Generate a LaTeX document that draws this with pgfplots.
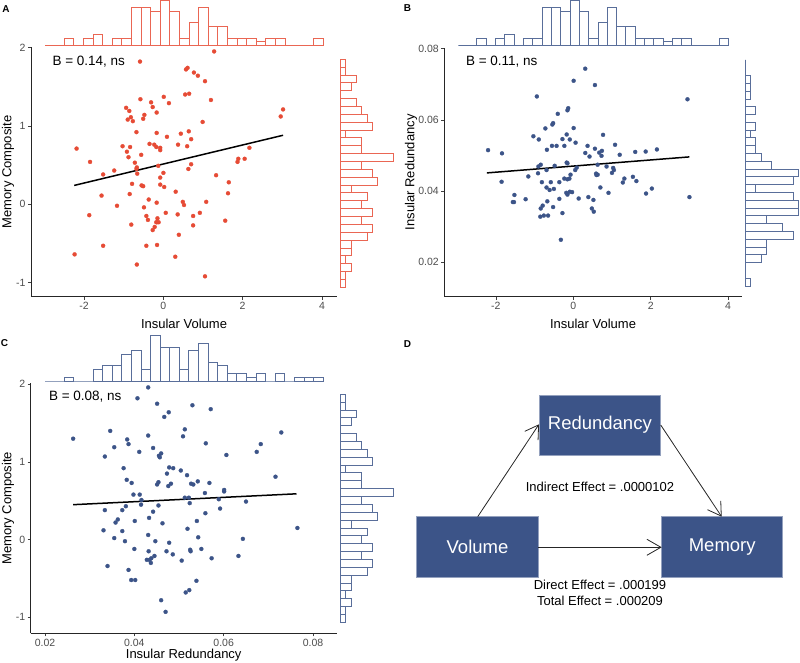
\documentclass[border=0pt]{standalone}
\usepackage{pgfplots}
\pgfplotsset{compat=1.18}
\usepackage{fontspec}
\setmainfont{Liberation Sans}
\usetikzlibrary{arrows.meta}
\definecolor{npgred}{HTML}{E64B35}
\definecolor{npgblue}{HTML}{3C5488}
\definecolor{tickgray}{HTML}{4D4D4D}
\pgfplotsset{
  scat/.style={scale only axis, clip=false,
    axis x line*=bottom, axis y line*=left,
    axis line style={black!85, line width=0.8pt, -},
    tick align=outside, major tick length=3pt,
    tick style={black!75, line width=0.6pt},
    tick label style={font=\fontsize{10.5}{12}\selectfont, color=tickgray},
    /pgf/number format/assume math mode=true,
    label style={font=\fontsize{13}{15}\selectfont},
    xticklabel style={yshift=1pt},
    yticklabel style={xshift=1pt},
  },
  hist/.style={scale only axis, clip=false, hide axis},
  histx/.style={hist, ybar interval, ymin=0, xmin=0, xmax=29},
  histy/.style={hist, xbar interval, xmin=0, ymin=0, ymax=29},
  dots/.style={only marks, mark=*, mark size=2pt, color=#1, mark options={fill=#1, draw=#1, line width=0.3pt, line join=round}},
}
\begin{document}
\begin{tikzpicture}[x=1pt,y=1pt]
\path[use as bounding box] (0,0) rectangle (800,663);

% ================= Panel A =================
\begin{axis}[scat, at={(31pt,366.3pt)}, anchor=south west, width=306pt, height=249.2pt,
  xmin=-3.34, xmax=4.38, ymin=-1.18, ymax=2.0,
  xtick={-2,0,2,4}, ytick={-1,0,1,2},
  xlabel={Insular Volume}, ylabel={Memory Composite},
  xlabel style={at={(axis description cs:0.5,-0.11)}, anchor=center},
  ylabel style={at={(axis description cs:-0.075,0.5)}, anchor=center}]
\addplot[dots=npgred] coordinates {
(1.28,1.95)(-0.59,1.82)(0.57,1.72)(0.61,1.74)(0.77,1.68)(0.87,1.64)(1.05,1.57)(-0.58,1.34)(0.01,1.37)(0.14,1.29)(0.55,1.40)(0.65,1.41)(1.20,1.33)(-0.31,1.30)(-0.27,1.24)(-0.17,1.17)(-0.94,1.23)(-0.86,1.19)(-0.82,1.11)(-0.90,1.08)(-0.77,1.06)(-0.48,1.14)(-0.51,1.09)(0.99,1.05)(3.02,1.21)(2.96,1.12)(-0.68,0.92)(-0.17,0.91)(0.09,0.86)(0.44,0.90)(0.64,0.93)(0.70,0.83)(-0.35,0.77)(-0.23,0.76)(-0.18,0.73)(-0.08,0.72)(-1.03,0.74)(-0.84,0.73)(0.37,0.76)(0.60,0.74)(-2.19,0.71)(2.17,0.72)(-0.92,0.67)(-0.88,0.60)(-0.56,0.63)(-0.08,0.69)(1.87,0.54)(1.89,0.58)(2.05,0.58)(-1.85,0.54)(-0.72,0.53)(-0.67,0.47)(-0.68,0.45)(-0.66,0.39)(0.70,0.51)(0.63,0.45)(-0.13,0.49)(-1.24,0.43)(-1.52,0.38)(0.0,0.40)(-0.08,0.34)(1.33,0.37)(-0.79,0.26)(-0.55,0.24)(-0.51,0.23)(-0.08,0.25)(0.02,0.22)(1.65,0.28)(1.63,0.14)(0.31,0.16)(-1.56,0.11)(-0.85,0.13)(-0.37,0.06)(-1.17,-0.02)(-0.17,0.02)(1.08,0.03)(0.49,0.03)(0.52,-0.01)(-0.49,-0.04)(0.06,-0.11)(0.36,-0.13)(0.92,-0.11)(-1.87,-0.14)(-0.43,-0.15)(-0.39,-0.20)(-0.15,-0.18)(-0.16,-0.23)(-0.12,-0.23)(-0.18,-0.23)(0.75,-0.15)(1.56,-0.21)(-0.81,-0.26)(0.75,-0.27)(-0.22,-0.29)(-0.27,-0.33)(0.39,-0.39)(-1.52,-0.53)(-0.43,-0.53)(-0.16,-0.52)(-2.24,-0.64)(0.30,-0.67)(-0.67,-0.77)(1.05,-0.92)};
\addplot[black, line width=1.5pt] coordinates {(-2.25,0.24)(3.02,0.88)};
\end{axis}
\node[anchor=west, font=\fontsize{13.5}{15}\selectfont] at (49,601.3) {B = 0.14, ns};
\begin{axis}[histx, at={(45pt,617.3pt)}, anchor=south west, width=278.4pt, height=45.7pt, ymax=12]
\addplot[draw=npgred!85, fill=white, line width=0.9pt] coordinates {(0,0)(1,0)(2,2)(3,0)(4,2)(5,3)(6,0)(7,2)(8,2)(9,10)(10,10)(11,9)(12,12)(13,9)(14,2)(15,6)(16,10)(17,5)(18,5)(19,2)(20,2)(21,2)(22,1)(23,2)(24,2)(25,0)(26,0)(27,0)(28,2)(29,0)};
\end{axis}
\begin{axis}[histy, at={(340.3pt,375.7pt)}, anchor=south west, width=53.3pt, height=228pt, xmax=10]
\addplot[draw=npgred!85, fill=white, line width=0.9pt] coordinates {(1,0)(1,1)(2,2)(1,3)(2,4)(2,5)(5,6)(6,7)(4,8)(6,9)(4,10)(5,11)(2,12)(7,13)(6,14)(4,15)(10,16)(4,17)(4,18)(1,19)(6,20)(5,21)(4,22)(3,23)(0,24)(2,25)(3,26)(1,27)(1,28)(0,29)};
\end{axis}

% ================= Panel B =================
\begin{axis}[scat, at={(444.3pt,366.3pt)}, anchor=south west, width=297.4pt, height=249pt,
  xmin=-3.33, xmax=4.35, ymin=0.0103, ymax=0.0803,
  xtick={-2,0,2,4}, ytick={0.02,0.04,0.06,0.08}, scaled y ticks=false,
  yticklabel style={/pgf/number format/fixed, /pgf/number format/precision=2, /pgf/number format/fixed zerofill},
  xlabel={Insular Volume}, ylabel={Insular Redundancy},
  xlabel style={at={(axis description cs:0.5,-0.11)}, anchor=center},
  ylabel style={at={(axis description cs:-0.112,0.5)}, anchor=center}]
\addplot[dots=npgblue] coordinates {
(0.31,0.0744)(0.01,0.0710)(0.56,0.0698)(-0.94,0.0666)(2.95,0.0658)(-0.15,0.0627)(-0.13,0.0633)(-0.40,0.0617)(-0.52,0.0591)(-0.54,0.0587)(-0.72,0.0576)(0.01,0.0577)(-1.03,0.0554)(-0.89,0.0545)(0.77,0.0558)(-0.17,0.0559)(-0.28,0.0546)(-0.09,0.0545)(0.06,0.0536)(-0.55,0.0527)(-0.43,0.0527)(-0.23,0.0527)(0.37,0.0527)(1.08,0.0530)(-2.2,0.0515)(0.56,0.0519)(0.74,0.0513)(-0.68,0.0516)(2.16,0.0517)(1.87,0.0511)(-1.84,0.0506)(0.31,0.0507)(0.42,0.0497)(0.67,0.0508)(0.73,0.0499)(1.20,0.0502)(1.60,0.0510)(-0.90,0.0469)(-0.84,0.0474)(-0.69,0.0459)(-0.48,0.0471)(-0.17,0.0480)(-0.15,0.0478)(0.09,0.0466)(0.05,0.0459)(0.63,0.0474)(0.86,0.0469)(1.03,0.0465)(1.05,0.0459)(-1.85,0.0426)(-1.16,0.0441)(-0.91,0.0450)(-0.81,0.0425)(-0.58,0.0425)(-0.50,0.0406)(-0.69,0.0410)(-0.61,0.0403)(-0.36,0.0425)(-0.23,0.0435)(-0.15,0.0433)(-0.10,0.0435)(-0.07,0.0446)(-0.18,0.0395)(-0.09,0.0398)(-0.15,0.0390)(-0.03,0.0397)(0.59,0.0449)(0.63,0.0446)(0.60,0.0445)(1.00,0.0451)(1.28,0.0424)(1.32,0.0435)(1.54,0.0440)(1.63,0.0428)(0.70,0.0410)(0.91,0.0395)(1.88,0.0393)(2.03,0.0407)(3.0,0.0383)(-1.52,0.0389)(-1.53,0.0369)(-1.56,0.0369)(-1.23,0.0377)(-0.67,0.0371)(-0.36,0.0378)(0.14,0.0379)(0.39,0.0383)(0.52,0.0375)(-0.79,0.0359)(-0.84,0.0351)(-0.52,0.0355)(0.48,0.0351)(0.53,0.0342)(-0.28,0.0338)(-0.85,0.0328)(-0.76,0.0331)(-0.65,0.0331)(-0.32,0.0263)};
\addplot[black, line width=1.5pt] coordinates {(-2.23,0.0451)(3.0,0.0496)};
\end{axis}
\node[anchor=west, font=\fontsize{13.5}{15}\selectfont] at (462.5,601.7) {B = 0.11, ns};
\begin{axis}[histx, at={(458.3pt,617.3pt)}, anchor=south west, width=270pt, height=45.7pt, ymax=12]
\addplot[draw=npgblue!85, fill=white, line width=0.9pt] coordinates {(0,0)(1,0)(2,2)(3,0)(4,2)(5,3)(6,0)(7,2)(8,2)(9,10)(10,10)(11,9)(12,12)(13,9)(14,2)(15,6)(16,10)(17,5)(18,5)(19,2)(20,2)(21,2)(22,1)(23,2)(24,2)(25,0)(26,0)(27,0)(28,2)(29,0)};
\end{axis}
\begin{axis}[histy, at={(745pt,377pt)}, anchor=south west, width=53.3pt, height=226pt, xmax=10]
\addplot[draw=npgblue!85, fill=white, line width=0.9pt] coordinates {(1,0)(0,1)(0,2)(3,3)(4,4)(4,5)(9,6)(7,7)(4,8)(10,9)(10,10)(9,11)(2,12)(9,13)(10,14)(5,15)(3,16)(2,17)(2,18)(1,19)(2,20)(0,21)(2,22)(0,23)(1,24)(1,25)(1,26)(0,27)(0,28)(0,29)};
\end{axis}

% ================= Panel C =================
\begin{axis}[scat, at={(30.7pt,29.7pt)}, anchor=south west, width=306pt, height=250pt,
  xmin=0.0168, xmax=0.0853, ymin=-1.206, ymax=2.013,
  xtick={0.02,0.04,0.06,0.08}, ytick={-1,0,1,2}, scaled x ticks=false,
  xticklabel style={/pgf/number format/fixed, /pgf/number format/precision=2, /pgf/number format/fixed zerofill},
  xlabel={Insular Redundancy}, ylabel={Memory Composite},
  xlabel style={at={(axis description cs:0.5,-0.087)}, anchor=center},
  ylabel style={at={(axis description cs:-0.074,0.5)}, anchor=center}]
\addplot[dots=npgblue] coordinates {
(0.0431,1.96)(0.0407,1.82)(0.0451,1.75)(0.0530,1.73)(0.0571,1.68)(0.0477,1.64)(0.0467,1.58)(0.0346,1.40)(0.0513,1.42)(0.0509,1.33)(0.0729,1.38)(0.0263,1.30)(0.0431,1.34)(0.0384,1.29)(0.0387,1.23)(0.0355,1.19)(0.0442,1.18)(0.0560,1.24)(0.0683,1.23)(0.0674,1.13)(0.0411,1.13)(0.0460,1.11)(0.0455,1.08)(0.0457,1.06)(0.0334,1.07)(0.0606,1.09)(0.0376,0.92)(0.0478,0.93)(0.0487,0.92)(0.0473,0.85)(0.0504,0.89)(0.0518,0.83)(0.0716,0.81)(0.0383,0.77)(0.0394,0.73)(0.0454,0.74)(0.0451,0.71)(0.0482,0.72)(0.0476,0.69)(0.0527,0.72)(0.0532,0.71)(0.0542,0.75)(0.0568,0.73)(0.0601,0.64)(0.0398,0.58)(0.0412,0.58)(0.0416,0.51)(0.0415,0.45)(0.0558,0.60)(0.0601,0.62)(0.0513,0.54)(0.0522,0.54)(0.0524,0.47)(0.0589,0.52)(0.0650,0.49)(0.0334,0.38)(0.0373,0.38)(0.0381,0.43)(0.0454,0.44)(0.0442,0.36)(0.0592,0.40)(0.0559,0.34)(0.0358,0.22)(0.0363,0.26)(0.0401,0.24)(0.0433,0.28)(0.0463,0.21)(0.0540,0.24)(0.0331,0.12)(0.0373,0.11)(0.0519,0.14)(0.0765,0.15)(0.0431,0.06)(0.0355,0.02)(0.0379,-0.02)(0.0447,-0.02)(0.0478,-0.04)(0.0543,0.03)(0.0643,0.01)(0.0400,-0.12)(0.0432,-0.15)(0.0472,-0.15)(0.0486,-0.19)(0.0525,-0.13)(0.0526,-0.15)(0.0550,-0.12)(0.0633,-0.21)(0.0573,-0.24)(0.0428,-0.26)(0.0434,-0.26)(0.0437,-0.30)(0.0445,-0.21)(0.0438,-0.24)(0.0506,-0.27)(0.0340,-0.34)(0.0387,-0.39)(0.0393,-0.52)(0.0402,-0.52)(0.0539,-0.53)(0.0523,-0.65)(0.0515,-0.68)(0.0460,-0.78)(0.0470,-0.93)};
\addplot[black, line width=1.5pt] coordinates {(0.0263,0.45)(0.0763,0.59)};
\end{axis}
\node[anchor=west, font=\fontsize{13.5}{15}\selectfont] at (45.5,266.3) {B = 0.08, ns};
\begin{axis}[histx, at={(45pt,282pt)}, anchor=south west, width=278.3pt, height=45.3pt, ymax=12]
\addplot[draw=npgblue!85, fill=white, line width=0.9pt] coordinates {(0,0)(1,0)(2,1)(3,0)(4,0)(5,3)(6,4)(7,4)(8,7)(9,8)(10,3)(11,12)(12,9)(13,9)(14,3)(15,8)(16,10)(17,5)(18,4)(19,2)(20,2)(21,1)(22,2)(23,0)(24,2)(25,0)(26,1)(27,1)(28,1)(29,0)};
\end{axis}
\begin{axis}[histy, at={(340.3pt,40.7pt)}, anchor=south west, width=53.3pt, height=228pt, xmax=10]
\addplot[draw=npgblue!85, fill=white, line width=0.9pt] coordinates {(1,0)(1,1)(2,2)(1,3)(2,4)(2,5)(5,6)(6,7)(4,8)(6,9)(4,10)(5,11)(2,12)(7,13)(6,14)(4,15)(10,16)(4,17)(4,18)(1,19)(6,20)(5,21)(4,22)(3,23)(0,24)(2,25)(3,26)(1,27)(1,28)(0,29)};
\end{axis}

% ================= Panel D =================
\draw[fill=npgblue, draw=npgblue!55!white, line width=0.6pt] (539,207.7) rectangle (660.7,268);
\draw[fill=npgblue, draw=npgblue!55!white, line width=0.6pt] (416.7,86) rectangle (538.3,146.3);
\draw[fill=npgblue, draw=npgblue!55!white, line width=0.6pt] (661.7,86) rectangle (782.7,146.3);
\node[white, font=\fontsize{18.5}{20}\selectfont] at (599.85,237.85) {Redundancy};
\node[white, font=\fontsize{18.5}{20}\selectfont] at (477.5,116.2) {Volume};
\node[white, font=\fontsize{18.5}{20}\selectfont] at (722.2,116.2) {Memory};
\begin{scope}[black!85, line width=0.8pt]
\draw[-{Straight Barb[length=13pt,width=16pt]}] (477.7,146.3) -- (539,238.7);
\draw[-{Straight Barb[length=13pt,width=16pt]}] (660.7,238) -- (721.7,146.3);
\draw[-{Straight Barb[length=14pt,width=16pt]}] (538.3,115.7) -- (661.7,115.7);
\end{scope}
\node[font=\fontsize{13}{14}\selectfont] at (600,176.3) {Indirect Effect = .0000102};
\node[font=\fontsize{13}{14}\selectfont] at (600,77.7) {Direct Effect = .000199};
\node[font=\fontsize{13}{14}\selectfont] at (600,62.3) {Total Effect = .000209};

% panel letters
\node[font=\fontsize{10}{12}\selectfont\bfseries] at (6,653.5) {A};
\node[font=\fontsize{10}{12}\selectfont\bfseries] at (407.5,654.5) {B};
\node[font=\fontsize{10}{12}\selectfont\bfseries] at (4.5,319.5) {C};
\node[font=\fontsize{10}{12}\selectfont\bfseries] at (407.5,319) {D};
\end{tikzpicture}
\end{document}
